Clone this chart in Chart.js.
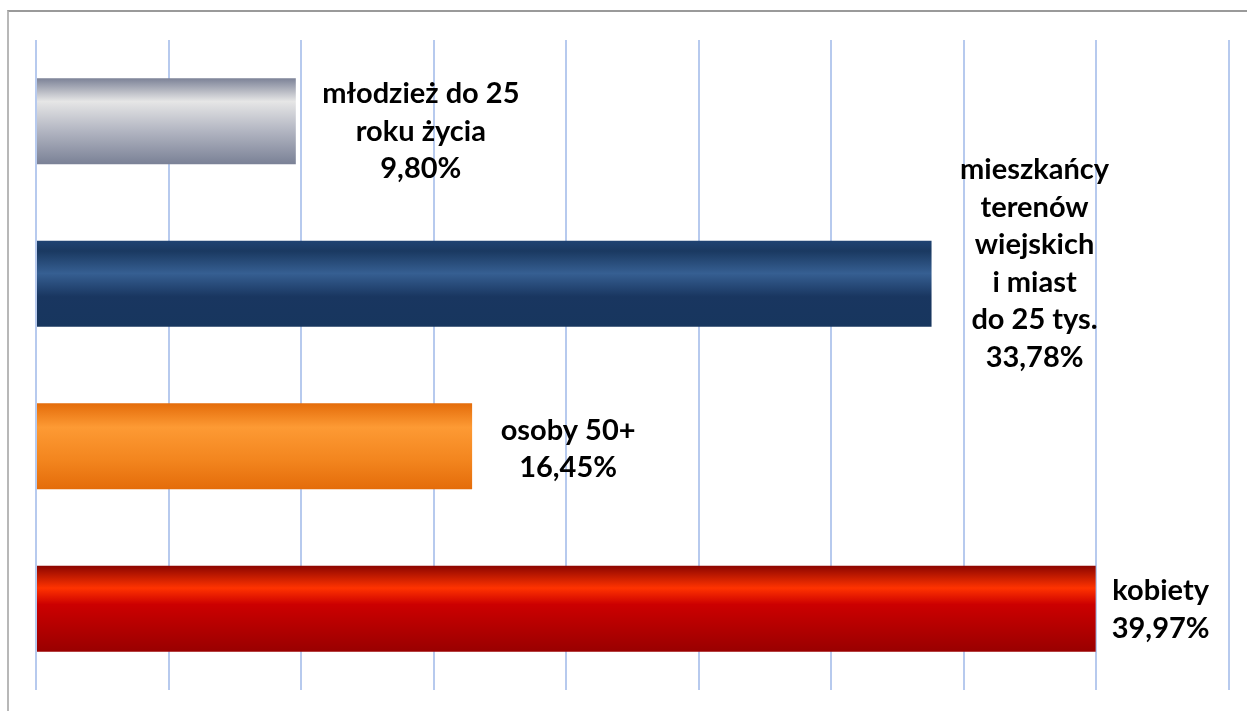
<!DOCTYPE html>
<html lang="pl">
<head>
<meta charset="utf-8">
<title>Udział grup</title>
<script src="https://cdn.jsdelivr.net/npm/chart.js@4.4.1/dist/chart.umd.min.js"></script>
<style>
    html, body { margin: 0; padding: 0; background: #fff; overflow: hidden; }
    #wrap { position: relative; width: 1247px; height: 711px; }
    #frame {
        position: absolute; left: 7px; top: 10px; width: 1300px; height: 800px;
        border-top: 2px solid #9a9a9a; border-left: 2px solid #b8b8b8;
    }
    #chart { position: absolute; left: 0; top: 0; }
</style>
</head>
<body>
<div id="wrap">
    <div id="frame"></div>
    <canvas id="chart" width="1247" height="711"></canvas>
</div>
<script>
// --- DATA ---
const categories = ['młodzież do 25 roku życia', 'mieszkańcy terenów wiejskich i miast do 25 tys.', 'osoby 50+', 'kobiety'];
const values = [9.80, 33.78, 16.45, 39.97];
const labelLines = [
    ['młodzież do 25', 'roku życia'],
    ['mieszkańcy', 'terenów', 'wiejskich', 'i miast', 'do 25 tys.'],
    ['osoby 50+'],
    ['kobiety']
];
const axisMax = 45;
const axisStep = 5;

// --- STYLE ---
// gradient stops (top -> bottom) for each bar
const barGradients = [
    [[0, '#7c8297'], [0.27, '#e6e6e6'], [0.6, '#b4b7c3'], [1, '#7a8196']],
    [[0, '#1f4373'], [0.12, '#1a3961'], [0.38, '#365f92'], [0.65, '#193660'], [1, '#17365e']],
    [[0, '#e46c0a'], [0.28, '#fd9a34'], [0.65, '#f3861f'], [1, '#e46c0a']],
    [[0, '#8b0500'], [0.26, '#ff3300'], [0.45, '#cc0000'], [1, '#990000']]
];
const solidColors = ['#b4b7c3', '#1f3f6b', '#f08a24', '#cc0000'];
// label block centre relative to bar end / bar centre
const labelDx = [125, 103, 96, 65];
const labelDy = [10, -20, 3, 1];
const barPct = 0.53;

function barFill(ctx) {
    const chart = ctx.chart;
    const i = ctx.dataIndex;
    const yScale = chart.scales.y;
    if (!chart.chartArea || !yScale || i === undefined) return solidColors[i] || '#999';
    const center = yScale.getPixelForValue(i);
    const half = (chart.chartArea.height / categories.length) * barPct / 2;
    const g = chart.ctx.createLinearGradient(0, center - half, 0, center + half);
    barGradients[i].forEach(([stop, color]) => g.addColorStop(stop, color));
    return g;
}

const fmt = v => v.toFixed(2).replace('.', ',') + '%';

// draws the multi-line labels next to each bar
const barLabels = {
    id: 'barLabels',
    afterDatasetsDraw(chart) {
        const ctx = chart.ctx;
        const meta = chart.getDatasetMeta(0);
        const lineH = 37.5;
        ctx.save();
        ctx.font = 'bold 29px Lato, "Open Sans", sans-serif';
        ctx.fillStyle = '#000';
        ctx.textAlign = 'center';
        ctx.textBaseline = 'middle';
        meta.data.forEach((bar, i) => {
            const lines = [...labelLines[i], fmt(values[i])];
            const cx = bar.x + labelDx[i];
            const top = bar.y + labelDy[i] - (lines.length - 1) * lineH / 2;
            lines.forEach((t, k) => ctx.fillText(t, cx, top + k * lineH));
        });
        ctx.restore();
    }
};

const chart = new Chart(document.getElementById('chart'), {
    type: 'bar',
    data: {
        labels: categories,
        datasets: [{
            data: values,
            backgroundColor: barFill,
            borderWidth: 0,
            categoryPercentage: 1,
            barPercentage: barPct
        }]
    },
    options: {
        indexAxis: 'y',
        responsive: false,
        animation: false,
        layout: { padding: { left: 36, right: 18, top: 40, bottom: 21 } },
        plugins: { legend: { display: false }, tooltip: { enabled: false } },
        scales: {
            x: {
                min: 0, max: axisMax,
                ticks: { display: false, stepSize: axisStep },
                grid: { color: '#b7caee', lineWidth: 2, drawTicks: false },
                border: { display: false }
            },
            y: {
                display: false
            }
        }
    },
    plugins: [barLabels]
});
</script>
</body>
</html>
